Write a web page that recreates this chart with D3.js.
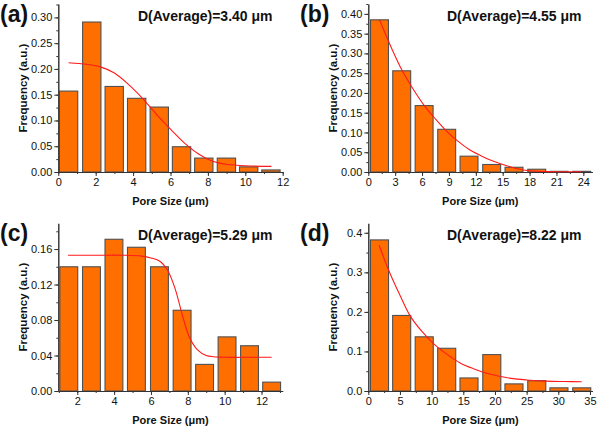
<!DOCTYPE html>
<html>
<head>
<meta charset="utf-8">
<script src="https://cdn.jsdelivr.net/npm/d3@7"></script>
<style>
  body { margin: 0; background: #fff; }
  svg { display: block; font-family: "Liberation Sans", Arial, sans-serif; }
  .tick text { font-size: 11px; fill: #111; }
  .domain, .tick line { stroke: #333; }
</style>
</head>
<body>
<svg id="chart" width="600" height="427"></svg>
<script>
// ---- data ----
// (a)
var aCenters = [0.55, 1.79, 2.99, 4.19, 5.4, 6.59, 7.78, 8.99, 10.18, 11.37];
var aFreq    = [0.157, 0.291, 0.166, 0.143, 0.126, 0.049, 0.027, 0.027, 0.010, 0.004];
var aFitX    = [0.55, 1.5, 2.25, 3.0, 3.75, 4.5, 5.25, 6.0, 6.75, 7.5, 8.25, 9.0, 10.0, 11.4];
var aFitY    = [0.212, 0.209, 0.204, 0.192, 0.170, 0.143, 0.112, 0.083, 0.056, 0.035, 0.021, 0.015, 0.012, 0.011];
// (b)
var bCenters = [1.25, 3.73, 6.23, 8.75, 11.24, 13.77, 16.26, 18.8, 21.28, 23.82];
var bFreq    = [0.385, 0.256, 0.168, 0.108, 0.040, 0.019, 0.012, 0.007, 0.0017, 0.0017];
var bFitX    = [1.25, 2.5, 3.75, 5, 6.25, 7.5, 8.75, 10, 11.25, 12.5, 13.75, 15, 16.5, 18, 20, 22, 23.8];
var bFitY    = [0.385, 0.318, 0.258, 0.21, 0.168, 0.134, 0.103, 0.078, 0.057, 0.042, 0.029, 0.019, 0.009, 0.003, 0.001, 0.0005, 0.0005];
// (c)
var cCenters = [1.54, 2.77, 3.99, 5.21, 6.46, 7.69, 8.91, 10.13, 11.35, 12.55];
var cFreq    = [0.140, 0.140, 0.171, 0.162, 0.140, 0.091, 0.030, 0.061, 0.051, 0.010];
var cFitX    = [1.5, 3, 4.5, 5.5, 6.0, 6.5, 6.9, 7.3, 7.75, 8.1, 8.5, 9.0, 10, 11, 12.55];
var cFitY    = [0.153, 0.153, 0.153, 0.152, 0.150, 0.146, 0.136, 0.116, 0.082, 0.060, 0.047, 0.040, 0.038, 0.038, 0.038];
// (d)
var dCenters = [1.77, 5.27, 8.83, 12.38, 15.9, 19.5, 23.0, 26.6, 30.1, 33.7];
var dFreq    = [0.382, 0.191, 0.137, 0.108, 0.033, 0.092, 0.018, 0.026, 0.008, 0.008];
var dFitX    = [1.7, 3.2, 5, 6.6, 8.5, 10.3, 12.5, 14.5, 16.5, 18.7, 20.5, 22.5, 25, 28, 31, 33.7];
var dFitY    = [0.369, 0.306, 0.242, 0.19, 0.15, 0.12, 0.092, 0.071, 0.057, 0.045, 0.038, 0.032, 0.028, 0.025, 0.024, 0.0235];

// tick values
var aXTicks = [0, 2, 4, 6, 8, 10, 12],        aYTicks = [0, 0.05, 0.10, 0.15, 0.20, 0.25, 0.30];
var bXTicks = [0, 3, 6, 9, 12, 15, 18, 21, 24], bYTicks = [0, 0.05, 0.10, 0.15, 0.20, 0.25, 0.30, 0.35, 0.40];
var cXTicks = [2, 4, 6, 8, 10, 12],           cYTicks = [0, 0.04, 0.08, 0.12, 0.16];
var dXTicks = [0, 5, 10, 15, 20, 25, 30, 35], dYTicks = [0, 0.1, 0.2, 0.3, 0.4];

var labels  = ["(a)", "(b)", "(c)", "(d)"];
var averages = ["D(Average)=3.40 μm", "D(Average)=4.55 μm", "D(Average)=5.29 μm", "D(Average)=8.22 μm"];

// ---- panel layout ----
var panels = [
  { centers: aCenters, freq: aFreq, fx: aFitX, fy: aFitY, xt: aXTicks, yt: aYTicks, xDom: [0, 12],      yDom: [0, 0.326], xStep: 1,   yStep: 0.025, barW: 0.98, fmt: ".2f",
    x0: 58.3, x1: 282.7, yb: 172, yt0: 4, ox: 0, oy: 0 },
  { centers: bCenters, freq: bFreq, fx: bFitX, fy: bFitY, xt: bXTicks, yt: bYTicks, xDom: [0, 25],      yDom: [0, 0.425], xStep: 1.5, yStep: 0.025, barW: 2.0,  fmt: ".2f",
    x0: 368.3, x1: 592.3, yb: 172, yt0: 4, ox: 300, oy: 0 },
  { centers: cCenters, freq: cFreq, fx: cFitX, fy: cFitY, xt: cXTicks, yt: cYTicks, xDom: [0.97, 13.15], yDom: [0, 0.189], xStep: 1,   yStep: 0.02,  barW: 0.97, fmt: ".2f",
    x0: 58.3, x1: 282.7, yb: 391, yt0: 223.3, ox: 0, oy: 219 },
  { centers: dCenters, freq: dFreq, fx: dFitX, fy: dFitY, xt: dXTicks, yt: dYTicks, xDom: [0, 35.4],    yDom: [0, 0.424], xStep: 2.5, yStep: 0.05,  barW: 2.85, fmt: ".1f",
    x0: 368.3, x1: 592.5, yb: 391, yt0: 223.3, ox: 300, oy: 219 }
];

var svg = d3.select("#chart");

panels.forEach(function(p, i){
  var g = svg.append("g");
  var x = d3.scaleLinear().domain(p.xDom).range([p.x0, p.x1]);
  var y = d3.scaleLinear().domain(p.yDom).range([p.yb, p.yt0]);

  // minor ticks
  var xMinor = d3.range(Math.ceil(p.xDom[0] / p.xStep) * p.xStep, p.xDom[1] + 1e-9, p.xStep);
  var yMinor = d3.range(0, p.yDom[1] + 1e-9, p.yStep);

  g.append("g").attr("transform", "translate(0," + p.yb + ")")
    .call(d3.axisBottom(x).tickValues(xMinor).tickSize(2).tickSizeOuter(0).tickFormat(""));
  g.append("g").attr("transform", "translate(" + p.x0 + ",0)")
    .call(d3.axisLeft(y).tickValues(yMinor).tickSize(2).tickSizeOuter(0).tickFormat(""));

  // bars
  g.selectAll("rect.bar").data(p.freq).enter().append("rect")
    .attr("class", "bar")
    .attr("x", function(d, k){ return x(p.centers[k] - p.barW / 2); })
    .attr("width", function(d, k){ return x(p.centers[k] + p.barW / 2) - x(p.centers[k] - p.barW / 2); })
    .attr("y", function(d){ return y(d); })
    .attr("height", function(d){ return p.yb - y(d); })
    .attr("fill", "#ff6f00")
    .attr("stroke", "#505050")
    .attr("stroke-width", 1.1);

  // major axes
  g.append("g").attr("transform", "translate(0," + p.yb + ")")
    .call(d3.axisBottom(x).tickValues(p.xt).tickSize(4).tickSizeOuter(0).tickPadding(2));
  g.append("g").attr("transform", "translate(" + p.x0 + ",0)")
    .call(d3.axisLeft(y).tickValues(p.yt).tickSize(4).tickSizeOuter(0).tickPadding(2).tickFormat(d3.format(p.fmt)));

  // fit curve
  var pts = p.fx.map(function(v, k){ return [v, p.fy[k]]; });
  g.append("path")
    .datum(pts)
    .attr("fill", "none")
    .attr("stroke", "#ff1a1a")
    .attr("stroke-width", 1.1)
    .attr("d", d3.line().x(function(d){ return x(d[0]); }).y(function(d){ return y(d[1]); }).curve(d3.curveCatmullRom));

  // axis titles
  g.append("text")
    .attr("x", (p.x0 + p.x1) / 2).attr("y", p.yb + 33)
    .attr("text-anchor", "middle")
    .attr("font-size", 11).attr("font-weight", "bold").attr("fill", "#111")
    .text("Pore Size (μm)");
  g.append("text")
    .attr("transform", "translate(" + (p.x0 - 31) + "," + ((p.yb + p.yt0) / 2) + ") rotate(-90)")
    .attr("text-anchor", "middle")
    .attr("font-size", 11.5).attr("font-weight", "bold").attr("fill", "#111")
    .text("Frequency (a.u.)");

  // panel label and average
  g.append("text")
    .attr("x", p.ox).attr("y", p.oy + 22)
    .attr("font-size", 23).attr("font-weight", "bold").attr("fill", "#111")
    .text(labels[i]);
  g.append("text")
    .attr("x", p.ox + (i % 2 === 0 ? 138 : 147)).attr("y", p.oy + 21)
    .attr("font-size", 14).attr("font-weight", "bold").attr("fill", "#111")
    .text(averages[i]);
});
</script>
</body>
</html>
